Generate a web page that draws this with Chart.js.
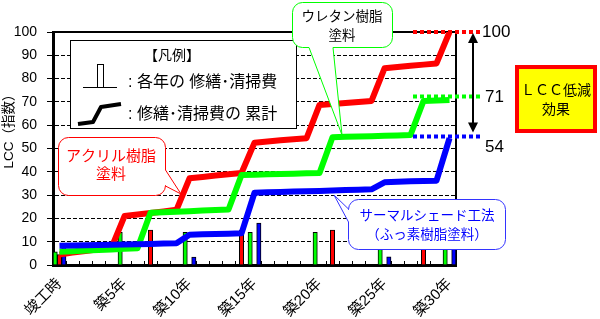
<!DOCTYPE html>
<html>
<head>
<meta charset="utf-8">
<script src="https://cdn.jsdelivr.net/npm/chart.js@4.4.1/dist/chart.umd.min.js"></script>
<style>
  html, body { margin: 0; padding: 0; background: #fff; }
  #wrap { width: 600px; height: 319px; }
</style>
</head>
<body>
<div id="wrap"><canvas id="lcc" width="600" height="319"></canvas></div>
<script>
// ---- データ ----
const xLabels = ['竣工時', '', '', '', '', '築5年', '', '', '', '', '築10年', '', '', '', '', '築15年',
                 '', '', '', '', '築20年', '', '', '', '', '築25年', '', '', '', '', '築30年'];

// 各年の修繕・清掃費（棒）
const barGreen = [5.7, null, null, null, null, 14, null, null, null, null, 14, null, null, null, null, 14,
                  null, null, null, null, 14, null, null, null, null, 14, null, null, null, null, 14];
const barRed   = [4.5, null, null, null, null, null, null, 15, null, null, null, null, null, null, 15, null,
                  null, null, null, null, null, 15, null, null, null, null, null, null, 15, null, null];
const barBlue  = [8.3, null, null, null, null, null, null, null, null, null, 3.4, null, null, null, null, 18,
                  null, null, null, null, null, null, null, null, null, 3.5, null, null, null, null, 18];

// 修繕・清掃費の累計（線）
const cumRed   = [4.5, 5.3, 6.0, 6.8, 7.5, 21, 21.7, 22.3, 23, 23.7, 37.2, 37.8, 38.4, 38.9, 39.5, 52.5,
                  53, 53.5, 54, 54.4, 68.7, 69.1, 69.5, 70, 70.4, 84.4, 85, 85.5, 86, 86.5, 100];
const cumGreen = [5.7, 5.95, 6.2, 6.45, 6.7, 6.95, 7.2, 22.4, 22.6, 22.9, 23.1, 23.4, 23.6, 23.8, 38.6, 38.75,
                  38.9, 39.05, 39.2, 39.35, 39.5, 54.8, 55, 55.1, 55.3, 55.5, 55.6, 55.8, 70.4, 70.6, 70.8];
const cumBlue  = [8.3, 8.4, 8.5, 8.6, 8.7, 8.8, 8.9, 9.0, 9.2, 9.3, 13.0, 13.15, 13.3, 13.45, 13.6, 31,
                  31.2, 31.3, 31.5, 31.7, 31.8, 32, 32.2, 32.3, 32.5, 35.5, 35.7, 35.9, 36.1, 36.2, 54.4];

// 右側の到達レベル表示
const guideLevels = [100, 72.3, 55.1];
const guideLabels = ['100', '71', '54'];
const guideColors = ['#ff0000', '#00ff00', '#0000ff'];

const FONT = '"Liberation Sans", "Noto Sans CJK JP", sans-serif';
const JP   = '"Noto Sans CJK JP", sans-serif';

// 吹き出し（角丸＋しっぽ）
function bubble(ctx, x, y, w, h, r, side, b1, b2, tx, ty) {
  ctx.beginPath();
  ctx.moveTo(x + r, y);
  ctx.lineTo(x + w - r, y);
  ctx.arcTo(x + w, y, x + w, y + r, r);
  if (side === 'right') { ctx.lineTo(x + w, b1); ctx.lineTo(tx, ty); ctx.lineTo(x + w, b2); }
  ctx.lineTo(x + w, y + h - r);
  ctx.arcTo(x + w, y + h, x + w - r, y + h, r);
  if (side === 'bottom') { ctx.lineTo(b2, y + h); ctx.lineTo(tx, ty); ctx.lineTo(b1, y + h); }
  ctx.lineTo(x + r, y + h);
  ctx.arcTo(x, y + h, x, y + h - r, r);
  if (side === 'left') { ctx.lineTo(x, b2); ctx.lineTo(tx, ty); ctx.lineTo(x, b1); }
  ctx.lineTo(x, y + r);
  ctx.arcTo(x, y, x + r, y, r);
  ctx.closePath();
  ctx.fillStyle = '#fff';
  ctx.fill();
  ctx.stroke();
}

const deco = {
  id: 'deco',
  beforeDatasetsDraw(chart) {
    const { ctx, chartArea: a, scales: { x } } = chart;
    const half = (x.getPixelForValue(1) - x.getPixelForValue(0)) / 2;
    ctx.save();
    ctx.strokeStyle = '#000';
    ctx.lineWidth = 1;
    for (let i = 0; i <= xLabels.length; i++) {
      const px = Math.round(x.getPixelForValue(i) - half) + 0.5;
      ctx.beginPath(); ctx.moveTo(px, a.bottom); ctx.lineTo(px, a.bottom - 4); ctx.stroke();
    }
    ctx.lineWidth = 2;
    ctx.beginPath();
    ctx.moveTo(a.left, a.top); ctx.lineTo(a.right, a.top); ctx.lineTo(a.right, a.bottom);
    ctx.stroke();
    ctx.restore();
  },
  afterDraw(chart) {
    const { ctx, scales: { y } } = chart;
    ctx.save();

    // 縦軸タイトル
    ctx.fillStyle = '#000';
    ctx.font = '13.5px ' + FONT;
    ctx.textAlign = 'center';
    ctx.textBaseline = 'middle';
    ctx.save();
    ctx.translate(9, 128);
    ctx.rotate(-Math.PI / 2);
    ctx.fillText('LCC（指数）', 0, 0);
    ctx.restore();

    // 凡例
    ctx.lineWidth = 1;
    ctx.strokeStyle = '#000';
    ctx.fillStyle = '#fff';
    ctx.fillRect(70, 40, 226, 88);
    ctx.strokeRect(70.5, 40.5, 226, 88);
    ctx.fillStyle = '#000';
    ctx.font = '14px ' + JP;
    ctx.fillText('【凡例】', 172, 55);
    ctx.beginPath(); ctx.moveTo(83, 87.5); ctx.lineTo(117, 87.5); ctx.stroke();
    ctx.strokeRect(97.5, 64.5, 6, 23);
    ctx.lineWidth = 4;
    ctx.lineJoin = 'round';
    ctx.beginPath(); ctx.moveTo(78, 124); ctx.lineTo(93, 122); ctx.lineTo(101, 107); ctx.lineTo(121, 104); ctx.stroke();
    ctx.textAlign = 'left';
    ctx.font = '16px ' + FONT;
    ctx.fillText(': 各年の 修繕･清掃費', 128, 83);
    ctx.fillText(': 修繕･清掃費の 累計', 128, 115);

    // 吹き出し
    ctx.lineWidth = 1;
    ctx.lineJoin = 'miter';
    ctx.strokeStyle = '#ff0000';
    bubble(ctx, 58.5, 137.5, 107, 58, 10, 'right', 170, 186, 181, 194);
    ctx.fillStyle = '#ff0000';
    ctx.textAlign = 'center';
    ctx.font = '15px ' + JP;
    ctx.fillText('アクリル樹脂', 111, 155);
    ctx.fillText('塗料', 111, 173);

    ctx.strokeStyle = '#00ff00';
    bubble(ctx, 292.5, 2.5, 100, 45, 10, 'bottom', 309, 333, 342, 135);
    ctx.fillStyle = '#000';
    ctx.font = '13.5px ' + JP;
    ctx.fillText('ウレタン樹脂', 342, 16);
    ctx.fillText('塗料', 342, 35);

    ctx.strokeStyle = '#3333ff';
    bubble(ctx, 348.5, 199.5, 157, 50, 10, 'left', 209, 222, 334, 195);
    ctx.fillStyle = '#0000ff';
    ctx.fillText('サーマルシェード工法', 427, 215);
    ctx.fillText('（ふっ素樹脂塗料）', 427, 234);

    // 到達レベルの点線と数値
    const lblOffset = [0, 1, 11];
    guideLevels.forEach((v, i) => {
      const py = y.getPixelForValue(v);
      ctx.strokeStyle = guideColors[i];
      ctx.lineWidth = 4;
      ctx.setLineDash([4, 3]);
      ctx.beginPath(); ctx.moveTo(413, py); ctx.lineTo(483, py); ctx.stroke();
      ctx.setLineDash([]);
      ctx.fillStyle = '#000';
      ctx.font = '17px ' + FONT;
      ctx.textAlign = 'left';
      ctx.fillText(guideLabels[i], 482 + (i ? 3 : 0), py + lblOffset[i]);
    });

    // 両矢印
    const top = y.getPixelForValue(guideLevels[0]) + 1;
    const bot = y.getPixelForValue(guideLevels[2]) - 4;
    ctx.strokeStyle = '#000';
    ctx.fillStyle = '#000';
    ctx.lineWidth = 2;
    ctx.beginPath(); ctx.moveTo(473, top + 8); ctx.lineTo(473, bot - 8); ctx.stroke();
    ctx.beginPath(); ctx.moveTo(473, top); ctx.lineTo(468, top + 10); ctx.lineTo(478, top + 10); ctx.closePath(); ctx.fill();
    ctx.beginPath(); ctx.moveTo(473, bot); ctx.lineTo(468, bot - 10); ctx.lineTo(478, bot - 10); ctx.closePath(); ctx.fill();

    // LCC低減効果
    ctx.fillStyle = '#ffff00';
    ctx.fillRect(515, 65, 82, 68);
    ctx.strokeStyle = '#ff0000';
    ctx.lineWidth = 4;
    ctx.strokeRect(517, 67, 78, 64);
    ctx.fillStyle = '#000';
    ctx.textAlign = 'center';
    ctx.font = '14px ' + JP;
    ctx.fillText('ＬＣＣ低減', 556, 90);
    ctx.fillText('効果', 556, 109);

    ctx.restore();
  }
};

const barStyle = { type: 'bar', borderColor: '#000', borderWidth: 1, order: 10,
                   categoryPercentage: 1, barPercentage: 1, borderSkipped: 'start' };
const lineStyle = { type: 'line', borderWidth: 6, pointRadius: 0, tension: 0,
                    borderJoinStyle: 'round', fill: false };

new Chart(document.getElementById('lcc'), {
  data: {
    labels: xLabels,
    datasets: [
      { ...lineStyle, label: 'サーマルシェード工法', data: cumBlue,  borderColor: '#0000ff', order: 1 },
      { ...lineStyle, label: 'ウレタン樹脂塗料',     data: cumGreen, borderColor: '#00ff00', order: 2 },
      { ...lineStyle, label: 'アクリル樹脂塗料',     data: cumRed,   borderColor: '#ff0000', order: 3 },
      { ...barStyle, label: 'ウレタン', data: barGreen, backgroundColor: '#00ff00' },
      { ...barStyle, label: 'アクリル', data: barRed,   backgroundColor: '#ff0000' },
      { ...barStyle, label: 'サーマル', data: barBlue,  backgroundColor: '#0000ff' },
    ],
  },
  options: {
    responsive: false,
    animation: false,
    layout: { padding: { top: 32, right: 144, left: 0, bottom: 0 } },
    plugins: { legend: { display: false }, tooltip: { enabled: false } },
    scales: {
      x: {
        afterFit: s => { s.height = 54; },
        grid: { display: false, drawTicks: false },
        border: { color: '#000', width: 3 },
        ticks: {
          autoSkip: false, maxRotation: 45, minRotation: 45, padding: 10,
          color: '#000', font: { family: FONT, size: 15 },
        },
      },
      y: {
        min: 0, max: 100,
        afterFit: s => { s.width = 53; },
        border: { color: '#000', width: 3, dash: [4, 2] },
        grid: {
          color: c => (c.tick.value === 0 || c.tick.value === 100) ? 'rgba(0,0,0,0)' : '#000',
          tickColor: '#000', tickLength: 6, lineWidth: 1,
        },
        ticks: { stepSize: 10, padding: 10, color: '#000', font: { family: FONT, size: 14 } },
      },
    },
  },
  plugins: [deco],
});
</script>
</body>
</html>
